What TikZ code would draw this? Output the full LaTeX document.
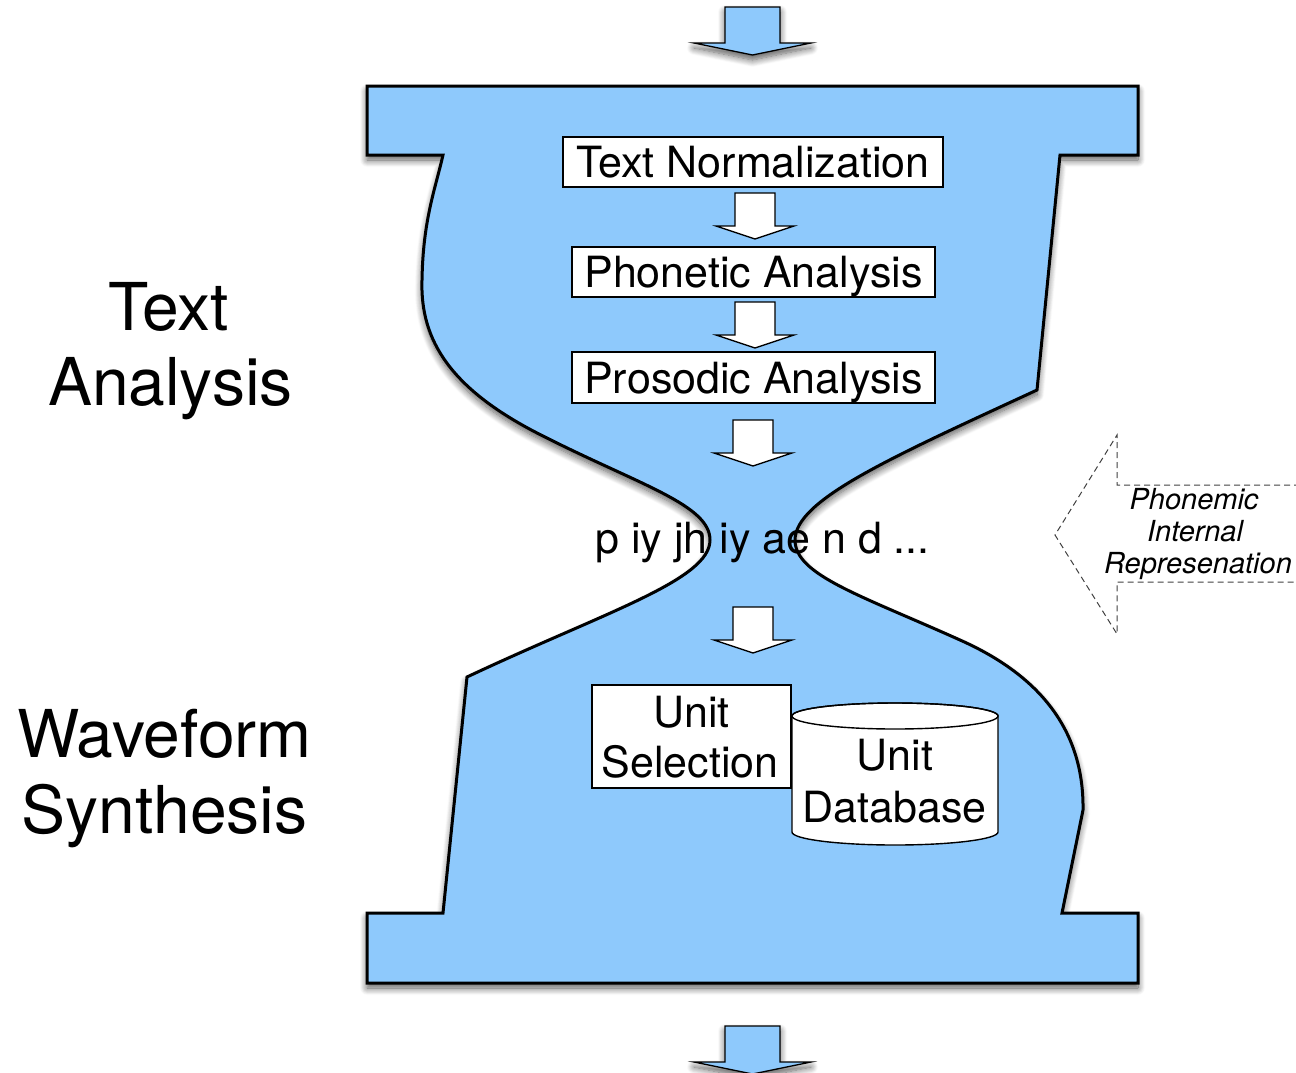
\documentclass[tikz,border=0pt]{standalone}
\usepackage{fontspec}
\setmainfont{TeX Gyre Heros}
\usetikzlibrary{shadows.blur}
\definecolor{hgblue}{RGB}{142,201,252}
\begin{document}
\begin{tikzpicture}[x=1pt,y=-1pt,
  hg/.style={fill=hgblue, draw=black, line width=3pt, line join=miter},
  procbox/.style={draw=black, line width=1.4pt, fill=white, inner sep=0pt},
  boxfont/.style={font=\fontsize{43}{50}\selectfont},
  boxtext/.style={boxfont, inner sep=0pt, anchor=base},
  sidelabel/.style={font=\fontsize{66}{76}\selectfont, inner sep=0pt, anchor=base},
  notelabel/.style={font=\fontsize{29}{32}\selectfont\itshape, inner sep=0pt, anchor=base},
  blockarrow/.style={draw=black, line width=1.3pt, line join=miter},
  shd/.style={blur shadow={shadow xshift=0pt, shadow yshift=-5pt, shadow blur radius=7pt, shadow blur steps=10, shadow opacity=65}},
  dashline/.style={draw=black!75, line width=1pt, dash pattern=on 6pt off 4pt},
  smallarrow/.pic={\draw[blockarrow, fill=white] (-20,0) -- (20,0) -- (20,33) -- (39,33) -- (0,46) -- (-39,33) -- (-20,33) -- cycle;},
  bigarrow/.pic={\draw[blockarrow, fill=hgblue, shd] (-27.5,0) -- (27.5,0) -- (27.5,36) -- (58.5,36) -- (0,48) -- (-58.5,36) -- (-27.5,36) -- cycle;}
]
\useasboundingbox (0,0) rectangle (1296,1072);
\clip (0,0) rectangle (1296,1072);

% input / output arrows
\pic at (752.5,7) {bigarrow};
\pic at (752.5,1026) {bigarrow};

% hourglass
\path[hg, shd]
  (367,86) -- (1138,86) -- (1138,155) -- (1060,155) -- (1037,390)
  .. controls (890,458) and (795,500) .. (795,540)
  .. controls (795,575) and (860,595) .. (960,640)
  .. controls (1050,680) and (1084,740) .. (1083,810)
  -- (1062,913) -- (1138,913) -- (1138,983) -- (367,983) -- (367,913)
  -- (443,913) -- (467,677)
  .. controls (605,612) and (710,580) .. (710,540)
  .. controls (710,505) and (640,485) .. (545,437)
  .. controls (450,390) and (420,340) .. (422,280)
  .. controls (423,220) and (435,190) .. (443,155)
  -- (367,155) -- cycle;

% processing boxes
\node[procbox, boxfont, minimum width=380pt, minimum height=50pt, text height=31pt, text depth=0pt] (tn) at (753,162) {Text Normalization};
\node[procbox, boxfont, minimum width=363pt, minimum height=50pt, text height=31pt, text depth=0pt] (pa) at (753.5,272) {Phonetic Analysis};
\node[procbox, boxfont, minimum width=363pt, minimum height=51pt, text height=31pt, text depth=0pt] (pr) at (753.5,377.5) {Prosodic Analysis};

\pic at (755,193) {smallarrow};
\pic at (755,302) {smallarrow};
\pic at (753,420) {smallarrow};
\pic at (753,607) {smallarrow};

\node[boxtext, anchor=base west] (phones) at (595,553) {p iy jh iy ae n d ...};

% unit database cylinder
\path[draw=black, line width=1.4pt, fill=white]
  (792,716) -- (792,832) arc[start angle=180, end angle=0, x radius=103, y radius=13]
  -- (998,716) arc[start angle=0, end angle=-180, x radius=103, y radius=13] -- cycle;
\draw[line width=1.4pt] (895,716) ellipse[x radius=103, y radius=13];
\node[boxtext] (db1) at (895,770) {Unit};
\node[boxtext] (db2) at (894.5,822) {Database};

% unit selection box
\node[procbox, minimum width=199pt, minimum height=103pt] (us) at (691.5,736.5) {};
\node[boxtext] (us1) at (691.5,727) {Unit};
\node[boxtext] (us2) at (690,777) {Selection};

% side labels
\node[sidelabel] (ta1) at (169,330) {Text};
\node[sidelabel] (ta2) at (170.5,405) {Analysis};
\node[sidelabel] (ws1) at (164.5,757) {Waveform};
\node[sidelabel] (ws2) at (164.5,833) {Synthesis};

% phonemic internal representation arrow
\coordinate (pe1) at (1300,485);
\coordinate (pe2) at (1300,582);
\path[dashline] (pe1) -- (1117,485) -- (1117,435) -- (1055,535) -- (1117,634) -- (1117,582) -- (pe2);
\node[notelabel] (pir1) at (1194,509) {Phonemic};
\node[notelabel] (pir2) at (1195,541) {Internal};
\node[notelabel] (pir3) at (1198,573) {Represenation};
\end{tikzpicture}
\end{document}
